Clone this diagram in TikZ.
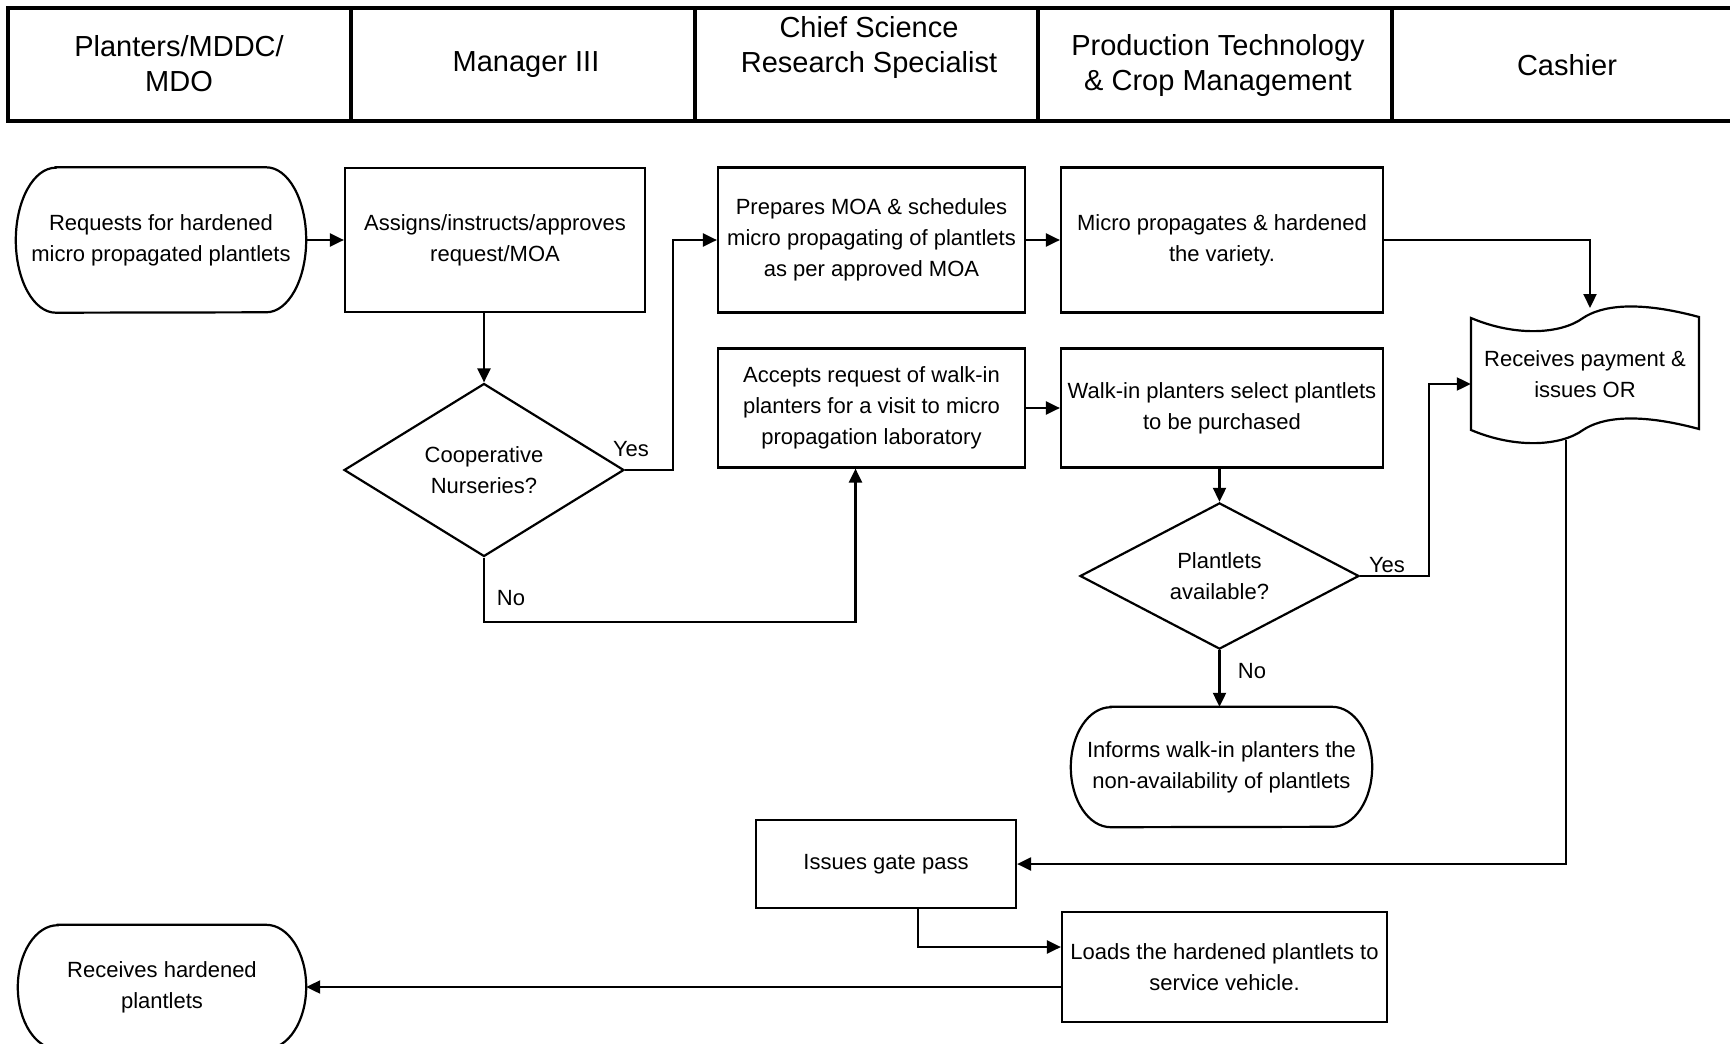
\documentclass[tikz,border=0pt]{standalone}
\usepackage{fontspec}
\setmainfont{Liberation Sans}
\usetikzlibrary{shapes.geometric,arrows.meta}

\begin{document}
\begin{tikzpicture}[x=1pt,y=-1pt,
    frame/.style={line width=3.5pt},
    head/.style={align=center,inner sep=0pt,font=\fontsize{29}{35}\selectfont},
    txt/.style={align=center,inner sep=0pt,font=\fontsize{22}{31}\selectfont},
    box/.style={txt,draw,line width=2.2pt},
    term/.style={txt},
    doc/.style={txt},
    decision/.style={txt,draw,diamond,line width=2.2pt},
    lbl/.style={inner sep=0pt,font=\fontsize{22}{26}\selectfont},
    arr/.style={-{Triangle[length=14pt,width=13pt]},line width=2.2pt}]
  \useasboundingbox (0,0) rectangle (1730,1044);

  % header row
  \draw[frame] (8,8) rectangle (1750,121);
  \foreach \x in {351,695,1038,1392}
    \draw[frame] (\x,8) -- (\x,121);
  \node[head] (hplant) at (179,64) {Planters/MDDC/\\MDO};
  \node[head] (hman) at (526,65) {Manager III};
  \node[head] (hchief) at (869,48) {Chief Science\\Research Specialist};
  \node[head] (hprod) at (1218,66) {Production Technology\\\& Crop Management};
  \node[head] (hcash) at (1567,65) {Cashier};

  % steps
  \node[term,minimum width=290pt,minimum height=145pt] at (161,240) (req) {Requests for hardened\\micro propagated plantlets};
  \node[box,minimum width=300pt,minimum height=144pt] at (495,240) (assign) {Assigns/instructs/approves\\request/MOA};
  \node[decision,minimum width=280pt,minimum height=173pt] at (484,470) (coop) {Cooperative\\Nurseries?};
  \node[box,minimum width=307pt,minimum height=145pt] at (871.5,240) (prep) {Prepares MOA \& schedules\\micro propagating of plantlets\\as per approved MOA};
  \node[box,minimum width=322pt,minimum height=145pt] at (1222,240) (micro) {Micro propagates \& hardened\\the variety.};
  \node[box,minimum width=307pt,minimum height=119pt] at (871.5,408) (accept) {Accepts request of walk-in\\planters for a visit to micro\\propagation laboratory};
  \node[box,minimum width=322pt,minimum height=119pt] at (1222,408) (walk) {Walk-in planters select plantlets\\to be purchased};
  \node[decision,minimum width=279pt,minimum height=145pt] at (1219.5,576) (avail) {Plantlets\\available?};
  \node[doc,minimum width=228pt,minimum height=112pt] at (1585,374) (pay) {Receives payment \&\\issues OR};
  \node[term,minimum width=301pt,minimum height=120pt] at (1221.5,767) (inform) {Informs walk-in planters the\\non-availability of plantlets};
  \node[box,minimum width=260pt,minimum height=88pt] at (886,864) (gate) {Issues gate pass};
  \node[box,minimum width=325pt,minimum height=110pt] at (1224.5,967) (load) {Loads the hardened plantlets to\\service vehicle.};
  \node[term,minimum width=288pt,minimum height=124pt] at (162,987) (recv) {Receives hardened\\plantlets};

  % terminal outlines
  \foreach \t/\h in {req/72.5,inform/60,recv/62}
    \draw[line width=2.2pt] ([xshift=40pt]\t.north west) -- ([xshift=-40pt]\t.north east)
      arc[start angle=90,end angle=-90,x radius=40pt,y radius=\h pt]
      -- ([xshift=40pt]\t.south west)
      arc[start angle=270,end angle=90,x radius=40pt,y radius=\h pt] -- cycle;

  % payment document outline
  \draw[line width=2.2pt] (1471,318) -- (1471,430)
    .. controls (1516,449) and (1561,446) .. (1583,430)
    .. controls (1601,418) and (1636,412) .. (1699,429) -- (1699,317)
    .. controls (1636,300) and (1601,306) .. (1583,318)
    .. controls (1561,334) and (1516,337) .. (1471,318) -- cycle;
  \coordinate (paytop) at (1590,308);
  \coordinate (paybot) at (1566,440);

  % flow
  \draw[arr] (req.east) -- (assign.west);
  \draw[arr] (coop.north |- assign.south) -- (coop.north);
  \draw[arr] (coop.east) -- ++(48,0) |- (prep.west);
  \draw[arr] (coop.south) -- ++(0,64) -| ([xshift=-16pt]accept.south);
  \draw[arr] (prep.east) -- (micro.west);
  \draw[arr] (micro.east) -| (paytop);
  \draw[arr] (accept.east) -- (walk.west);
  \draw[arr] (avail.north |- walk.south) -- (avail.north);
  \draw[arr] (avail.east) -- ++(69,0) |- ([yshift=-10pt]pay.west);
  \draw[arr] (avail.south) -- (avail.south |- inform.north);
  \draw[arr] (paybot) |- (gate.east);
  \draw[arr] ([xshift=32pt]gate.south) |- ([yshift=20pt]load.west);
  \draw[arr] (load.west |- recv.east) -- (recv.east);

  % branch labels
  \node[lbl] (yes1) at (631,449) {Yes};
  \node[lbl] (no1) at (511,598) {No};
  \node[lbl] (yes2) at (1387,565) {Yes};
  \node[lbl] (no2) at (1252,671) {No};
\end{tikzpicture}
\end{document}
